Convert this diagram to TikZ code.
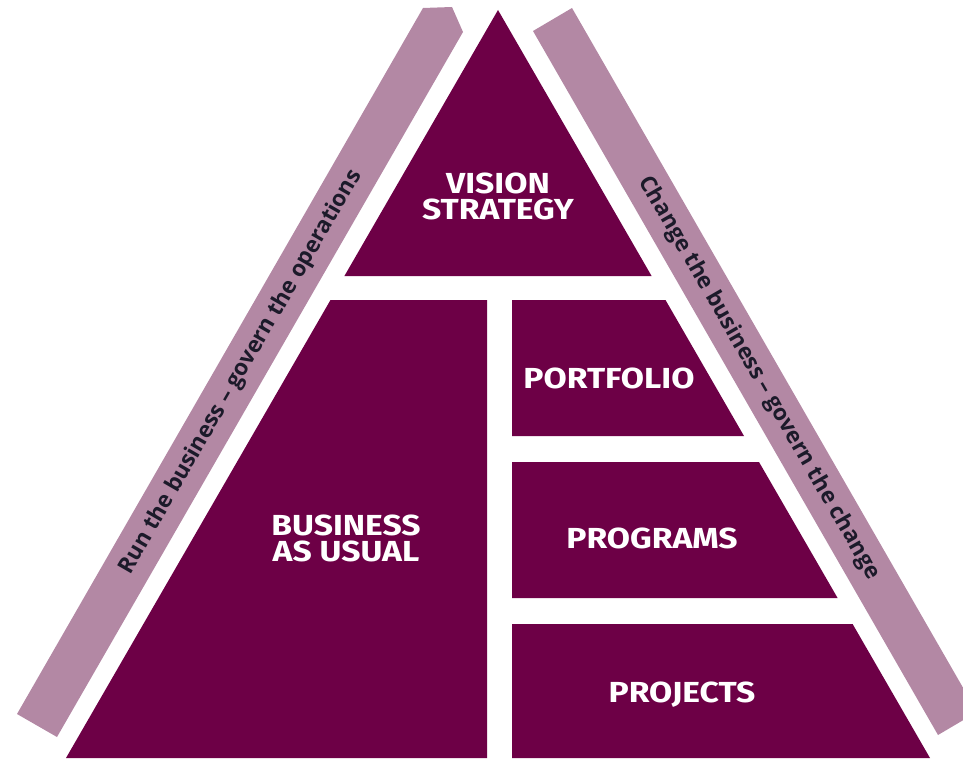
\documentclass[tikz,border=0pt]{standalone}
\usepackage{fontspec}
\setmainfont{Fira Sans}
\newfontfamily\lblfont{Fira Sans}[FakeStretch=1.16]
\newfontfamily\bandfont{Open Sans}[Ligatures=TeX]
\definecolor{plum}{HTML}{6D0046}
\definecolor{bandc}{HTML}{B388A4}
\definecolor{bandtxt}{HTML}{1C1A2A}
\tikzset{
  block/.style={fill=plum, draw=none},
  band/.style={fill=bandc, draw=none},
  lbl/.style={text=white, font=\lblfont\fontsize{29}{26}\selectfont\bfseries, align=center, inner sep=0pt},
  bandlbl/.style={text=bandtxt, font=\bandfont\fontsize{22.5}{24}\selectfont\bfseries, inner sep=0pt},
}
\begin{document}
\begin{tikzpicture}[x=1pt,y=-1pt]
\useasboundingbox (0,0) rectangle (963,760);
\clip (0,0) rectangle (963,760);
% bands
\fill[band] (423,8) -- (452,7) -- (463,32) -- (57,737) -- (17,714) -- cycle;
\fill[band] (533,31) -- (572,8) -- (977,712) -- (938,735) -- cycle;
% pyramid blocks
\fill[block] (498,10) -- (651.6,276) -- (344.4,276) -- cycle;
\fill[block] (330.5,300) -- (487,300) -- (487,758) -- (66,758) -- cycle;
\fill[block] (512,300) -- (665.5,300) -- (744,436) -- (512,436) -- cycle;
\fill[block] (512,462) -- (759,462) -- (837.6,598) -- (512,598) -- cycle;
\fill[block] (512,624) -- (852.6,624) -- (930,758) -- (512,758) -- cycle;
% labels
\node[lbl] (vision) at (498,196) {VISION\\STRATEGY};
\node[lbl] (bau) at (346,538) {BUSINESS\\AS USUAL};
\node[lbl] (portfolio) at (609,378) {PORTFOLIO};
\node[lbl] (programs) at (652,538) {PROGRAMS};
\node[lbl] (projects) at (682,695) {PROJECTS};
\node[bandlbl, rotate=60] (run) at (241,372) {Run the business – govern the operations};
\node[bandlbl, rotate=-60] (change) at (759,378) {Change the business – govern the change};
\end{tikzpicture}
\end{document}
